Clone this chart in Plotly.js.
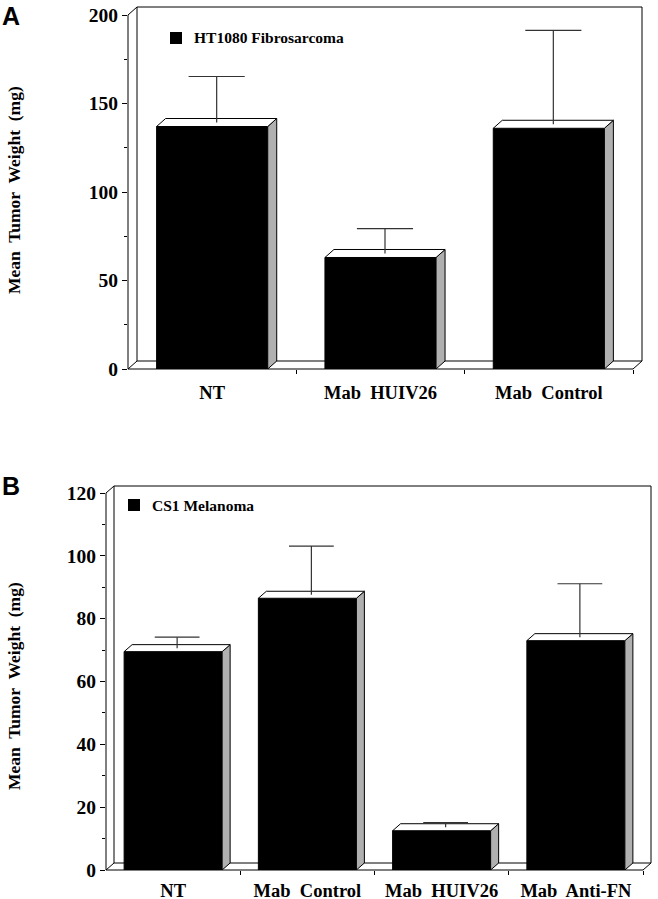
<!DOCTYPE html>
<html><head><meta charset="utf-8">
<script src="https://cdn.plot.ly/plotly-3.0.1.min.js"></script>
<style>html,body{margin:0;padding:0;background:#fff}</style>
</head><body><div id="chart" style="width:658px;height:899px"></div>
<script>
// ---- data ----
const categoriesA = ['NT', 'Mab\u00a0 HUIV26', 'Mab\u00a0 Control'];
const meanWeightA = [137, 63, 136];
const errorA = [26, 14, 53];
const seriesA = 'HT1080 Fibrosarcoma';
const tickValsA = [0, 50, 100, 150, 200];

const categoriesB = ['NT', 'Mab\u00a0 Control', 'Mab\u00a0 HUIV26', 'Mab\u00a0 Anti-FN'];
const meanWeightB = [69.5, 86.5, 12.5, 73];
const errorB = [3.5, 15.5, 1.5, 17];
const seriesB = 'CS1 Melanoma';
const tickValsB = [0, 20, 40, 60, 80, 100, 120];

const yTitle = 'Mean\u00a0 Tumor\u00a0 Weight\u00a0 (mg)';
const panelLabels = ['A', 'B'];

// ---- layout helpers ----
const W = 658, H = 899;
const serif = 'Liberation Serif, Times New Roman, serif';
const traces = [], shapes = [], annotations = [];
const layout = {
  width: W, height: H, margin: {l: 0, r: 0, t: 0, b: 0},
  paper_bgcolor: '#fff', plot_bgcolor: 'rgba(0,0,0,0)', showlegend: false
};

function panel(o) {
  const n = o.cats.length;
  const ymax = o.ticks[o.ticks.length - 1];
  const pxPerX = (o.pxFrontRight - o.pxLeft) / n;
  const pxPerY = (o.pxBottom - o.pxTopTick) / ymax;
  const dxu = o.depthX / pxPerX, dyu = o.depthY / pxPerY;
  const xr = [-0.5, n - 0.5 + dxu], yr = [0, ymax + dyu];
  const xdom = [o.pxLeft / W, (o.pxFrontRight + o.depthX) / W];
  const ydom = [(H - o.pxBottom) / H, (H - (o.pxTopTick - o.depthY)) / H];
  const px = x => xdom[0] + (x - xr[0]) / (xr[1] - xr[0]) * (xdom[1] - xdom[0]);
  const py = y => ydom[0] + (y - yr[0]) / (yr[1] - yr[0]) * (ydom[1] - ydom[0]);
  const xs = o.cats.map((c, i) => i);
  const xa = 'x' + o.id, ya = 'y' + o.id;
  const xkey = 'xaxis' + o.id, ykey = 'yaxis' + o.id;

  // frame (front axis, floor, back wall)
  const ln = {color: '#000', width: 1};
  const L = (x0, y0, x1, y1) => shapes.push({type: 'line', xref: 'paper', yref: 'paper', layer: 'below',
    x0: px(x0), y0: py(y0), x1: px(x1), y1: py(y1), line: ln});
  const xl = -0.5, xrt = n - 0.5;
  L(xl, 0, xl, ymax);
  L(xl, 0, xrt, 0);
  L(xl + dxu, dyu, xrt + dxu, dyu);
  L(xl + dxu, dyu, xl + dxu, ymax + dyu);
  L(xrt + dxu, dyu, xrt + dxu, ymax + dyu);
  L(xl + dxu, ymax + dyu, xrt + dxu, ymax + dyu);
  L(xl, ymax, xl + dxu, ymax + dyu);
  L(xl, 0, xl + dxu, dyu);
  L(xrt, 0, xrt + dxu, dyu);

  // front faces
  traces.push({type: 'bar', x: xs, y: o.vals, width: o.bw, xaxis: xa, yaxis: ya,
    marker: {color: '#000', line: {color: '#000', width: 1}}, hoverinfo: 'skip', name: o.series});
  // side faces and top faces
  const sx = [], sy = [], tx = [], ty = [];
  o.vals.forEach((v, i) => {
    const l = i - o.bw / 2, r = i + o.bw / 2;
    sx.push(r, r + dxu, r + dxu, r, r, null); sy.push(0, dyu, v + dyu, v, 0, null);
    tx.push(l, l + dxu, r + dxu, r, l, null); ty.push(v, v + dyu, v + dyu, v, v, null);
  });
  traces.push({type: 'scatter', mode: 'lines', x: sx, y: sy, fill: 'toself', fillcolor: '#b0b0b0',
    line: {color: '#000', width: 1}, xaxis: xa, yaxis: ya, hoverinfo: 'skip'});
  traces.push({type: 'scatter', mode: 'lines', x: tx, y: ty, fill: 'toself', fillcolor: '#fff',
    line: {color: '#000', width: 1}, xaxis: xa, yaxis: ya, hoverinfo: 'skip'});
  // error bars (upper only)
  const ex = [], ey = [];
  o.vals.forEach((v, i) => {
    const c = i + dxu / 2, b = v + dyu / 2, t = v + o.errs[i] + dyu / 2, cap = 1 / 6;
    ex.push(c, c, null, c - cap, c + cap, null); ey.push(b, t, null, t, t, null);
  });
  traces.push({type: 'scatter', mode: 'lines', x: ex, y: ey, line: {color: '#333', width: 1.2},
    xaxis: xa, yaxis: ya, hoverinfo: 'skip'});

  const minorX = [];
  for (let i = 0; i < n; i++) minorX.push(i + 0.5);
  const minorY = [];
  for (let i = 0; i < o.ticks.length - 1; i++) minorY.push((o.ticks[i] + o.ticks[i + 1]) / 2);

  layout[xkey] = {domain: xdom, range: xr, anchor: ya, tickmode: 'array', tickvals: xs, ticktext: o.cats,
    ticks: '', showline: false, zeroline: false, showgrid: false, ticklabelstandoff: o.labelStandoff,
    tickfont: {family: serif, size: 18.5, color: '#000', weight: 700},
    minor: {tickmode: 'array', tickvals: minorX, ticks: 'outside', ticklen: 4, tickcolor: '#000', tickwidth: 1}};
  layout[ykey] = {domain: ydom, range: yr, anchor: xa, tickmode: 'array', tickvals: o.ticks,
    ticks: 'outside', ticklen: 5, tickcolor: '#000', tickwidth: 1, showline: false, zeroline: false, showgrid: false,
    tickfont: {family: serif, size: 19.5, color: '#000', weight: 700},
    minor: {tickmode: 'array', tickvals: minorY, ticks: 'outside', ticklen: 3, tickcolor: '#000', tickwidth: 1}};

  // legend key
  shapes.push({type: 'rect', xref: 'paper', yref: 'paper', x0: o.keyX / W, x1: (o.keyX + 12) / W,
    y0: (H - o.keyY - 6) / H, y1: (H - o.keyY + 6) / H, fillcolor: '#000', line: {width: 0}});
  annotations.push({xref: 'paper', yref: 'paper', x: (o.keyX + 22) / W, y: (H - o.keyY) / H,
    xanchor: 'left', yanchor: 'middle', showarrow: false, text: o.series,
    font: {family: serif, size: 15.5, color: '#000', weight: 700}});
  // y title
  annotations.push({xref: 'paper', yref: 'paper', x: 14 / W, y: (H - o.titleY) / H, textangle: -90,
    xanchor: 'center', yanchor: 'middle', showarrow: false, text: yTitle,
    font: {family: serif, size: 17.5, color: '#000', weight: 700}});
  // panel letter
  annotations.push({xref: 'paper', yref: 'paper', x: 0, y: (H - o.letterY) / H, xanchor: 'left', yanchor: 'top',
    showarrow: false, text: o.letter, font: {family: 'Liberation Sans, Arial, sans-serif', size: 25, color: '#000', weight: 700}});
}

panel({id: '', cats: categoriesA, vals: meanWeightA, errs: errorA, ticks: tickValsA, series: seriesA,
  pxLeft: 128, pxFrontRight: 633, pxTopTick: 15, pxBottom: 369, depthX: 9, depthY: 8, bw: 0.66,
  labelStandoff: 10, keyX: 170, keyY: 38, titleY: 190, letterY: 0, letter: panelLabels[0]});
panel({id: '2', cats: categoriesB, vals: meanWeightB, errs: errorB, ticks: tickValsB, series: seriesB,
  pxLeft: 106, pxFrontRight: 643, pxTopTick: 493, pxBottom: 870, depthX: 8, depthY: 7, bw: 0.73,
  labelStandoff: 7, keyX: 128, keyY: 505, titleY: 686, letterY: 470, letter: panelLabels[1]});

layout.shapes = shapes;
layout.annotations = annotations;
Plotly.newPlot('chart', traces, layout, {staticPlot: true});
</script></body></html>
